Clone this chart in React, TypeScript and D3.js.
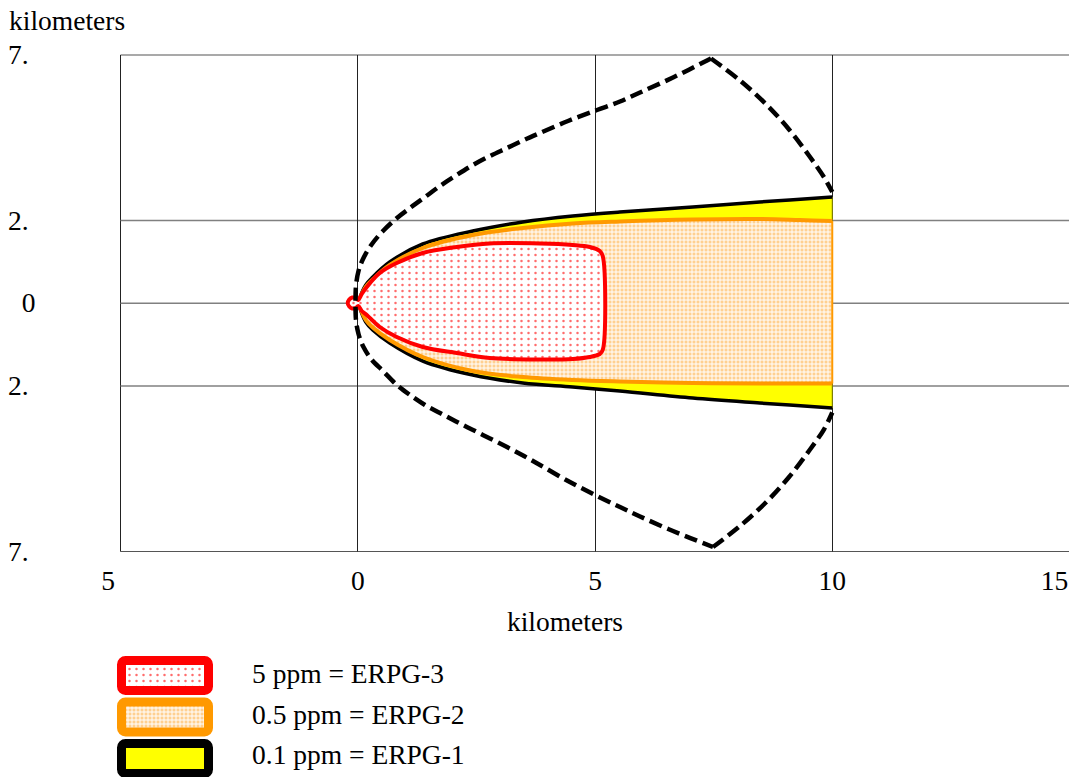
import React from 'react';
import * as d3 from 'd3';

// Chart canvas
const W = 1069;
const H = 777;

// Axis ticks and their printed labels
const xTicks = [-5, 0, 5, 10, 15];
const xTickLabels = ['5', '0', '5', '10', '15'];
const yTicks = [7.5, 2.5, 0, -2.5, -7.5];
const yTickLabels = ['7.', '2.', '0', '2.', '7.'];
const xGrid = [0, 5, 10];
const yGrid = [2.5, 0, -2.5];

// Wind direction confidence lines (downwind km, crosswind km), peak to nose
const confUpperDown = [7.445, 6.644, 5.949, 5.527, 5.042, 4.431, 3.841, 3.504, 3.145, 2.787, 2.429, 2.071, 1.734, 1.417, 1.101, 0.827, 0.532, 0.3, 0.121, 0.016, -0.037, -0.047];
const confUpperCross = [7.394, 6.82, 6.367, 6.095, 5.838, 5.506, 5.144, 4.932, 4.69, 4.449, 4.177, 3.86, 3.542, 3.21, 2.878, 2.576, 2.183, 1.79, 1.367, 0.974, 0.521, 0];
// nose to peak
const confLowerDown = [-0.037, 0.016, 0.121, 0.3, 0.532, 0.827, 1.101, 1.417, 1.734, 2.071, 2.429, 2.787, 3.145, 3.504, 3.841, 4.431, 5.042, 5.527, 5.949, 6.644, 7.487];
const confLowerCross = [-0.506, -0.929, -1.322, -1.715, -2.047, -2.47, -2.772, -3.074, -3.316, -3.572, -3.829, -4.086, -4.343, -4.615, -4.887, -5.37, -5.823, -6.156, -6.443, -6.881, -7.364];
// outer arcs at the end of the confidence region
const arcUpperDown = [7.445, 8.04, 8.6, 9.09, 9.52, 9.83, 10.0];
const arcUpperCross = [7.394, 6.75, 6.02, 5.25, 4.44, 3.8, 3.36];
const arcLowerDown = [7.487, 8.04, 8.6, 9.09, 9.52, 9.83, 10.0];
const arcLowerCross = [-7.364, -6.75, -6.02, -5.25, -4.44, -3.8, -3.3];

// ERPG-1 (0.1 ppm) footprint
const erpg1Down = [0.011, 0.042, 0.169, 0.316, 0.674, 1.37, 2.424, 3.477, 4.531, 5.522, 7.061, 8.473, 10.0];
const erpg1Upper = [0, 0.159, 0.551, 0.793, 1.246, 1.79, 2.183, 2.455, 2.636, 2.757, 2.908, 3.059, 3.21];
const erpg1Lower = [0, -0.144, -0.566, -0.808, -1.201, -1.745, -2.168, -2.409, -2.53, -2.651, -2.863, -3.014, -3.165];

// ERPG-2 (0.5 ppm) footprint
const erpg2Down = [0.011, 0.042, 0.169, 0.316, 0.674, 1.37, 2.424, 3.477, 4.531, 5.522, 7.061, 8.473, 9.316, 10.0];
const erpg2Upper = [0, 0.128, 0.491, 0.718, 1.156, 1.669, 2.062, 2.273, 2.409, 2.47, 2.53, 2.545, 2.515, 2.485];
const erpg2Lower = [0, -0.113, -0.506, -0.733, -1.11, -1.624, -2.047, -2.228, -2.319, -2.364, -2.409, -2.424, -2.424, -2.424];

// ERPG-3 (5 ppm) footprint
const erpg3Down = [-0.211, -0.179, -0.116, -0.042, 0.011, 0.084, 0.19, 0.464, 0.822, 1.37, 2.086, 2.782, 3.836, 4.531, 4.889, 5.1, 5.163];
const erpg3Upper = [0, 0.113, 0.174, 0.159, 0.098, 0.279, 0.491, 0.914, 1.216, 1.518, 1.699, 1.805, 1.805, 1.76, 1.699, 1.58, 1.427];
const erpg3Lower = [0, -0.098, -0.159, -0.144, -0.083, -0.234, -0.355, -0.718, -1.02, -1.322, -1.503, -1.654, -1.699, -1.684, -1.624, -1.533, -1.412];

// Legend entries
const legendLabels = ['5 ppm = ERPG-3', '0.5 ppm = ERPG-2', '0.1 ppm = ERPG-1'];
const legendStroke = ['#ff0000', '#ff9900', '#000000'];
const legendFill = ['url(#dotsRed)', 'url(#dotsOrange)', '#ffff00'];

const FONT = '"Liberation Serif", "Times New Roman", serif';
const FS = 27.5;

type Pt = [number, number];
const zip = (a: number[], b: number[]): Pt[] => a.map((v, i) => [v, b[i]] as Pt);

export default function App() {
  const x = d3.scaleLinear().domain([-5, 15]).range([120.5, 1069.5]);
  const y = d3.scaleLinear().domain([-7.5, 7.5]).range([551.5, 55]);

  const smooth = d3
    .line<Pt>()
    .x((d) => x(d[0]))
    .y((d) => y(d[1]))
    .curve(d3.curveCatmullRom.alpha(0.5));
  const smoothClosed = d3
    .line<Pt>()
    .x((d) => x(d[0]))
    .y((d) => y(d[1]))
    .curve(d3.curveCatmullRomClosed.alpha(0.5));

  // Closed outline: upper edge out, flat end, lower edge back
  const band = (up: Pt[], lo: Pt[]) => {
    const a = smooth(up) || '';
    const b = (smooth([...lo].reverse()) || '').replace(/^M/, 'L');
    return a + b + 'Z';
  };

  const e1Up = zip(erpg1Down, erpg1Upper);
  const e1Lo = zip(erpg1Down, erpg1Lower);
  const e2Up = zip(erpg2Down, erpg2Upper);
  const e2Lo = zip(erpg2Down, erpg2Lower);
  const e3Up = zip(erpg3Down, erpg3Upper);
  const e3Lo = zip(erpg3Down, erpg3Lower);
  const e3Ring: Pt[] = [...e3Up, ...e3Lo.slice(1).reverse()];

  const confCurve: Pt[] = [...zip(confUpperDown, confUpperCross), ...zip(confLowerDown, confLowerCross)];
  const arcUp = zip(arcUpperDown, arcUpperCross);
  const arcLo = zip(arcLowerDown, arcLowerCross);

  const crisp = (v: number) => Math.floor(v) + 0.5;
  const left = crisp(x(-5));
  const right = W;
  const top = y(7.5);
  const bottom = y(-7.5);

  const e1End = erpg1Down.length - 1;
  const e2End = erpg2Down.length - 1;

  // outer tick labels sit left of their tick so the last one stays on the canvas
  const xLabelShift = (i: number) => (i === 0 ? -12.5 : i === xTicks.length - 1 ? -15 : 0);

  return (
    <svg
      width={W}
      height={H}
      style={{ position: 'absolute', left: 0, top: 0, background: '#fff' }}
      fontFamily={FONT}
      fontSize={FS}
    >
      <defs>
        <pattern id="dotsRed" width={7} height={6} patternUnits="userSpaceOnUse">
          <rect width={7} height={6} fill="#ffffff" />
          <circle cx={3.5} cy={3} r={1.25} fill="#ff3b3b" opacity={0.75} />
        </pattern>
        <pattern id="dotsOrange" width={4} height={4} patternUnits="userSpaceOnUse">
          <rect width={4} height={4} fill="#ffffff" />
          <rect x={0.5} y={0.5} width={3} height={3} fill="#ffd090" />
        </pattern>
      </defs>

      {/* frame */}
      <line x1={left} x2={right} y1={top} y2={top} stroke="#555" strokeWidth={1.2} />
      <line x1={left} x2={right} y1={bottom} y2={bottom} stroke="#555" strokeWidth={1.2} />
      <line x1={left} x2={left} y1={top} y2={bottom} stroke="#222" strokeWidth={1} />

      {/* grid */}
      {yGrid.map((g) => (
        <line key={'h' + g} x1={left} x2={right} y1={y(g)} y2={y(g)} stroke="#808080" strokeWidth={1.6} />
      ))}
      {xGrid.map((g) => (
        <line key={'v' + g} x1={crisp(x(g))} x2={crisp(x(g))} y1={top} y2={bottom} stroke="#222" strokeWidth={1} />
      ))}

      {/* ERPG-1 */}
      <path d={band(e1Up, e1Lo)} fill="#ffff00" stroke="none" />
      <line
        x1={x(erpg1Down[e1End])}
        x2={x(erpg1Down[e1End])}
        y1={y(erpg1Upper[e1End])}
        y2={y(erpg1Lower[e1End])}
        stroke="#8a8a00"
        strokeWidth={1}
      />
      <path d={smooth(e1Up) || ''} fill="none" stroke="#000" strokeWidth={3.5} />
      <path d={smooth(e1Lo) || ''} fill="none" stroke="#000" strokeWidth={3.5} />

      {/* ERPG-2 */}
      <path d={band(e2Up, e2Lo)} fill="url(#dotsOrange)" stroke="none" />
      <line
        x1={x(erpg2Down[e2End])}
        x2={x(erpg2Down[e2End])}
        y1={y(erpg2Upper[e2End])}
        y2={y(erpg2Lower[e2End])}
        stroke="#ff9900"
        strokeWidth={2}
      />
      <path d={smooth(e2Up) || ''} fill="none" stroke="#ff9900" strokeWidth={4} />
      <path d={smooth(e2Lo) || ''} fill="none" stroke="#ff9900" strokeWidth={4} />

      {/* ERPG-3 */}
      <path d={smoothClosed(e3Ring) || ''} fill="url(#dotsRed)" stroke="#ff0000" strokeWidth={4} />

      {/* confidence lines */}
      {[smooth(confCurve), smooth(arcUp), smooth(arcLo)].map((d, i) => (
        <path key={'c' + i} d={d || ''} fill="none" stroke="#000" strokeWidth={4.5} strokeDasharray="13 6" />
      ))}

      {/* axis titles */}
      <text x={9} y={30}>kilometers</text>
      <text x={565} y={631} textAnchor="middle">kilometers</text>

      {/* tick labels */}
      {xTicks.map((t, i) => (
        <text key={'xt' + i} x={x(t) + xLabelShift(i)} y={590} textAnchor="middle">
          {xTickLabels[i]}
        </text>
      ))}
      {yTicks.map((t, i) => (
        <text key={'yt' + i} x={8} dx={yTickLabels[i].includes('.') ? 0 : FS * 0.5} y={y(t) + 9}>
          {yTickLabels[i]}
        </text>
      ))}

      {/* legend */}
      {legendLabels.map((lab, i) => (
        <g key={'lg' + i}>
          <rect
            x={121.5}
            y={660.5 + i * 41.5}
            width={87}
            height={30}
            rx={4}
            fill={legendFill[i]}
            stroke={legendStroke[i]}
            strokeWidth={9}
          />
          <text x={252} y={683 + i * 40.5}>
            {lab}
          </text>
        </g>
      ))}
    </svg>
  );
}
